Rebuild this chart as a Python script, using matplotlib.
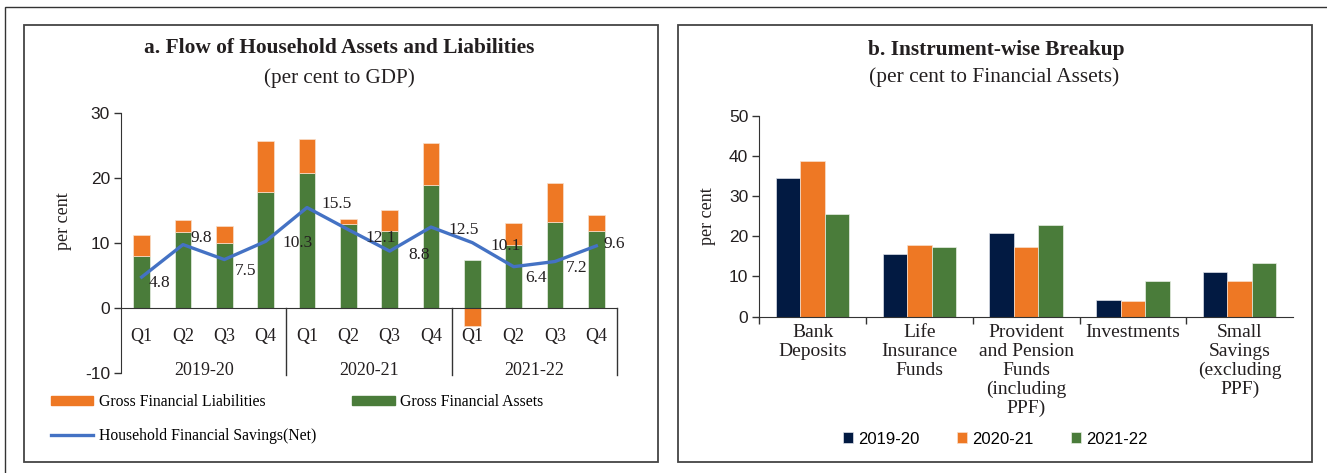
import matplotlib
matplotlib.use("Agg")
import matplotlib.pyplot as plt
import numpy as np
from matplotlib.patches import Rectangle, Patch
from matplotlib.lines import Line2D

plt.rcParams["axes.unicode_minus"] = False

# ---- data: panel a (per cent to GDP) ----
quarters = ["Q1", "Q2", "Q3", "Q4"] * 3
years = ["2019-20", "2020-21", "2021-22"]
gross_assets = [8.1, 11.7, 10.1, 17.9, 20.8, 13.0, 11.9, 19.0, 7.4, 9.7, 13.2, 11.9]
gross_liabilities = [3.2, 1.9, 2.6, 7.8, 5.3, 0.8, 3.2, 6.5, -2.7, 3.4, 6.0, 2.5]
net_savings = [4.8, 9.8, 7.5, 10.3, 15.5, 12.1, 8.8, 12.5, 10.1, 6.4, 7.2, 9.6]

# ---- data: panel b (per cent to financial assets) ----
instruments = ["Bank\nDeposits", "Life\nInsurance\nFunds",
               "Provident\nand Pension\nFunds\n(including\nPPF)",
               "Investments", "Small\nSavings\n(excluding\nPPF)"]
share_2019_20 = [34.4, 15.6, 20.8, 4.1, 11.0]
share_2020_21 = [38.7, 17.8, 17.3, 4.0, 9.0]
share_2021_22 = [25.6, 17.3, 22.7, 9.0, 13.3]

W, H = 1327, 473
ORANGE = "#ee7824"
GREEN = "#4a7c3a"
NAVY = "#021a42"
BLUE = "#4472c4"
TXT = "#231f20"
SERIF = "Liberation Serif"
SANS = "Liberation Sans"

fig = plt.figure(figsize=(W / 100, H / 100), dpi=100)


def fx(x):
    return x / W


def fy(y):
    return 1 - y / H


def axes_px(x0, y0, x1, y1):
    return fig.add_axes([fx(x0), fy(y1), fx(x1) - fx(x0), fy(y0) - fy(y1)])


# outer frame and panel frames
fig.patches.append(Rectangle((fx(5), fy(480)), fx(1340) - fx(5), fy(6.7) - fy(480),
                             transform=fig.transFigure, fill=False, lw=1.0,
                             ec="#333333"))
for (x0, y0, x1, y1) in [(24, 25, 658.3, 462.3), (678.3, 25, 1312.3, 462.3)]:
    fig.patches.append(Rectangle((fx(x0), fy(y1)), fx(x1) - fx(x0), fy(y0) - fy(y1),
                                 transform=fig.transFigure, fill=False, lw=1.3,
                                 ec="#444444"))

# ================= panel a =================
ax = axes_px(121, 113.3, 617, 373.3)
x = np.arange(len(quarters))
assets = np.array(gross_assets)
liab = np.array(gross_liabilities)
bottoms = np.where(liab >= 0, assets, 0)
ax.bar(x, assets, width=0.4, color=GREEN, edgecolor="#e8efe4", linewidth=0.5, zorder=2)
ax.bar(x, liab, width=0.4, bottom=bottoms, color=ORANGE, edgecolor="#f8e0cc",
       linewidth=0.5, zorder=2)
ax.plot(x, net_savings, color=BLUE, lw=2.4, zorder=3)

label_offsets = [(18, -6), (18, 7), (21, -11), (32, -2), (30, 4), (32, -8),
                 (29, -4), (33, -3), (33, -3), (22, -11), (22, -6), (18, 2)]
for xi, v, off in zip(x, net_savings, label_offsets):
    ax.annotate(f"{v}", (xi, v), xytext=off, textcoords="offset pixels",
                ha="center", va="center", fontsize=12.5, family=SERIF, color=TXT,
                zorder=4)

ax.set_xlim(-0.5, len(quarters) - 0.5)
ax.set_ylim(-10, 30)
ax.set_yticks([-10, 0, 10, 20, 30])
ax.tick_params(axis="y", direction="out", length=5, width=1, color="#333333",
               labelsize=12.5, labelcolor=TXT, pad=3)
for t in ax.get_yticklabels():
    t.set_family(SANS)
ax.set_xticks([])
for s in ["top", "right"]:
    ax.spines[s].set_visible(False)
ax.spines["bottom"].set_position(("data", 0))
ax.spines["bottom"].set_color("#333333")
ax.spines["left"].set_color("#333333")

for xi, q in zip(x, quarters):
    ax.text(xi, -4.4, q, ha="center", va="center", fontsize=13, family=SERIF,
            color=TXT)
for i, yr in enumerate(years):
    ax.text(4 * i + 1.5, -9.5, yr, ha="center", va="center", fontsize=13,
            family=SERIF, color=TXT)
for sep in [3.5, 7.5, 11.5]:
    ax.plot([sep, sep], [0, -10.3], color="#333333", lw=1, clip_on=False)

fig.text(fx(64), fy(221), "per cent", rotation=90, ha="center", va="center",
         fontsize=13, family=SERIF, color=TXT)
fig.text(fx(339), fy(48), "a. Flow of Household Assets and Liabilities",
         ha="center", va="center", fontsize=15.4, fontweight="bold", family=SERIF,
         color=TXT)
fig.text(fx(339), fy(78), "(per cent to GDP)", ha="center", va="center",
         fontsize=15.2, family=SERIF, color=TXT)

handles_a = [Patch(color=ORANGE, label="Gross Financial Liabilities"),
             Line2D([], [], color=BLUE, lw=2.4, label="Household Financial Savings(Net)"),
             Patch(color=GREEN, label="Gross Financial Assets")]
fig.legend(handles=handles_a, loc="upper left", bbox_to_anchor=(fx(51), fy(394)),
           ncol=2, frameon=False, prop={"family": SERIF, "size": 11.3},
           handlelength=2.7, handleheight=0.5, handletextpad=0.35,
           columnspacing=2.3, labelspacing=1.15, borderaxespad=0, borderpad=0)

# ================= panel b =================
bx = axes_px(759.3, 115.7, 1293, 316.7)
xc = np.arange(len(instruments))
bw = 0.23
bx.bar(xc - bw, share_2019_20, width=bw, color=NAVY, edgecolor="#dde0e8",
       linewidth=0.5, label="2019-20", zorder=2)
bx.bar(xc, share_2020_21, width=bw, color=ORANGE, edgecolor="#f8e0cc",
       linewidth=0.5, label="2020-21", zorder=2)
bx.bar(xc + bw, share_2021_22, width=bw, color=GREEN, edgecolor="#e8efe4",
       linewidth=0.5, label="2021-22", zorder=2)
bx.set_xlim(-0.5, len(instruments) - 0.5)
bx.set_ylim(0, 50)
bx.set_yticks(range(0, 51, 10))
bx.set_xticks(np.arange(-0.5, len(instruments) - 1, 1.0))
bx.set_xticklabels([])
bx.tick_params(axis="x", direction="out", length=5, width=1, color="#333333")
bx.tick_params(axis="y", direction="out", length=5, width=1, color="#333333",
               labelsize=12.5, labelcolor=TXT, pad=3)
for t in bx.get_yticklabels():
    t.set_family(SANS)
for s in ["top", "right"]:
    bx.spines[s].set_visible(False)
bx.spines["bottom"].set_color("#333333")
bx.spines["left"].set_color("#333333")
for xi, name in zip(xc, instruments):
    bx.text(xi, -1.8, name, ha="center", va="top", fontsize=14, family=SERIF,
            color=TXT, linespacing=1.15)

fig.text(fx(707), fy(216), "per cent", rotation=90, ha="center", va="center",
         fontsize=13, family=SERIF, color=TXT)
fig.text(fx(996), fy(50), "b. Instrument-wise Breakup", ha="center", va="center",
         fontsize=15.4, fontweight="bold", family=SERIF, color=TXT)
fig.text(fx(994), fy(77), "(per cent to Financial Assets)", ha="center",
         va="center", fontsize=15.4, family=SERIF, color=TXT)
bx.legend(loc="center left", bbox_to_anchor=(fx(843), fy(439)),
          bbox_transform=fig.transFigure, ncol=3, frameon=False,
          prop={"family": SANS, "size": 12}, handlelength=0.6, handleheight=0.6,
          handletextpad=0.3, columnspacing=2.25, borderaxespad=0, borderpad=0)

fig.savefig("out.png", dpi=100)
